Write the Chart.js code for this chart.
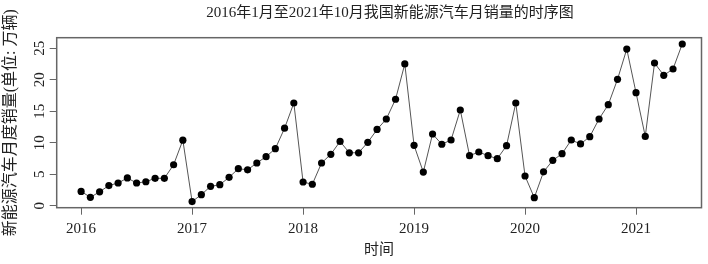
<!DOCTYPE html>
<html>
<head>
<meta charset="utf-8">
<script src="https://cdn.jsdelivr.net/npm/chart.js@4/dist/chart.umd.min.js"></script>
<style>
html,body{margin:0;padding:0;background:#fff;}
#wrap{width:708px;height:264px;}
</style>
</head>
<body>
<div id="wrap"><canvas id="c" width="708" height="264"></canvas></div>
<script>
// Monthly NEV sales (unit: 10k vehicles)
const sales2016 = [2.27, 1.33, 2.2, 3.2, 3.6, 4.4, 3.6, 3.8, 4.35, 4.35, 6.5, 10.4];
const sales2017 = [0.65, 1.75, 3.08, 3.33, 4.5, 5.87, 5.7, 6.78, 7.78, 9.05, 12.3, 16.3];
const sales2018 = [3.76, 3.4, 6.78, 8.16, 10.2, 8.4, 8.4, 10.06, 12.1, 13.76, 16.9, 22.5];
const sales2019 = [9.58, 5.33, 11.38, 9.75, 10.43, 15.19, 7.94, 8.52, 7.94, 7.46, 9.52, 16.3];
const sales2020 = [4.71, 1.27, 5.37, 7.2, 8.25, 10.43, 9.8, 10.95, 13.76, 16.03, 20.06, 24.87];
const sales2021 = [17.94, 11.0, 22.65, 20.7, 21.7, 25.67];
const years = [2016, 2017, 2018, 2019, 2020, 2021];
const xTicks = [2016, 2017, 2018, 2019, 2020, 2021];
const yTicks = [0, 5, 10, 15, 20, 25];
const titleText = '2016年1月至2021年10月我国新能源汽车月销量的时序图';
const xTitle = '时间';
const yTitle = '新能源汽车月度销量(单位: 万辆)';

const byYear = [sales2016, sales2017, sales2018, sales2019, sales2020, sales2021];
const points = [];
byYear.forEach((arr, i) => arr.forEach((v, m) => points.push({x: years[i] + m / 12, y: v})));

const FONT = '"Liberation Serif", "Noto Sans CJK SC", serif';

const overlay = {
  id: 'overlay',
  afterDraw(chart) {
    const {ctx, chartArea: a, scales: {y}} = chart;
    ctx.save();
    ctx.strokeStyle = '#666';
    ctx.lineWidth = 1.5;
    ctx.strokeRect(a.left, a.top, a.right - a.left, a.bottom - a.top);
    ctx.fillStyle = '#222';
    ctx.textAlign = 'center';
    ctx.textBaseline = 'middle';
    ctx.font = '15px ' + FONT;
    y.ticks.forEach(t => {
      const py = y.getPixelForValue(t.value);
      ctx.save();
      ctx.translate(40, py);
      ctx.rotate(-Math.PI / 2);
      ctx.fillText(String(t.value), 0, 0);
      ctx.restore();
    });
    // main title
    ctx.fillText(titleText, 390, 13);
    // x title
    ctx.fillText(xTitle, (a.left + a.right) / 2, 250);
    // y title
    ctx.font = '16px ' + FONT;
    ctx.save();
    ctx.translate(11, (a.top + a.bottom) / 2);
    ctx.rotate(-Math.PI / 2);
    ctx.fillText(yTitle, 0, 0);
    ctx.restore();
    ctx.restore();
  }
};

new Chart(document.getElementById('c'), {
  type: 'line',
  data: {
    datasets: [{
      data: points,
      borderColor: '#555',
      borderWidth: 1,
      pointRadius: 3.6,
      pointBackgroundColor: '#000',
      pointBorderColor: '#000',
      pointBorderWidth: 0,
      tension: 0,
      clip: false
    }]
  },
  options: {
    responsive: false,
    animation: false,
    devicePixelRatio: 1,
    layout: {padding: {top: 37.7, right: 6.5, left: 0, bottom: 0}},
    plugins: {legend: {display: false}, title: {display: false}, tooltip: {enabled: false}},
    scales: {
      x: {
        type: 'linear',
        min: 2015.78,
        max: 2021.59,
        afterBuildTicks: s => { s.ticks = xTicks.map(v => ({value: v})); },
        afterFit: s => { s.height = 56.3; },
        ticks: {
          autoSkip: false, maxRotation: 0, minRotation: 0, padding: 5,
          color: '#222', font: {family: FONT, size: 15},
          callback: v => String(v)
        },
        grid: {drawOnChartArea: false, drawTicks: true, tickLength: 7, color: '#666', lineWidth: 1},
        border: {display: false}
      },
      y: {
        type: 'linear',
        min: -0.32,
        max: 26.67,
        afterBuildTicks: s => { s.ticks = yTicks.map(v => ({value: v})); },
        afterFit: s => { s.width = 56.7; },
        ticks: {display: false},
        grid: {drawOnChartArea: false, drawTicks: true, tickLength: 7, color: '#666', lineWidth: 1},
        border: {display: false}
      }
    }
  },
  plugins: [overlay]
});
</script>
</body>
</html>
